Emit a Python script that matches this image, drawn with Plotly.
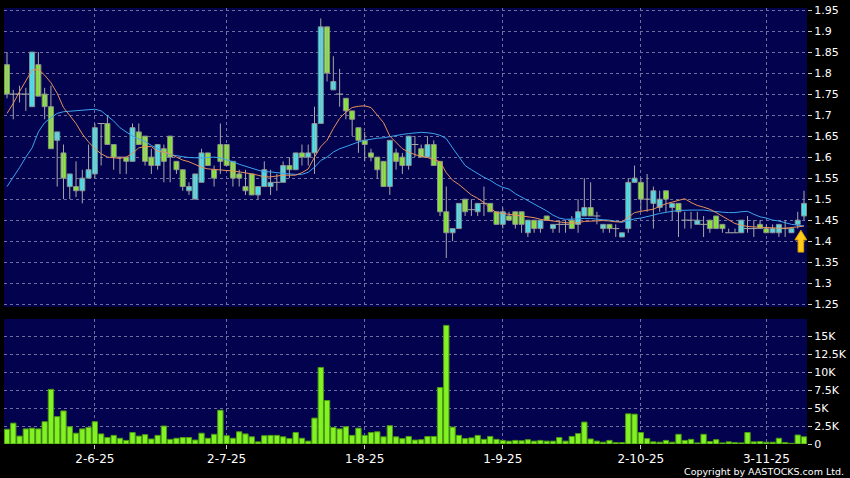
import plotly.graph_objects as go

# ---- data ----
opens = [1.82,1.75,1.75,1.75,1.72,1.82,1.75,1.72,1.64,1.61,1.53,1.53,1.52,1.55,1.56,1.68,1.68,1.63,1.60,1.60,
         1.59,1.66,1.65,1.60,1.58,1.62,1.65,1.59,1.57,1.52,1.50,1.54,1.61,1.57,1.63,1.63,1.59,1.56,1.53,1.56,
         1.51,1.53,1.53,1.54,1.54,1.58,1.57,1.61,1.60,1.61,1.68,1.91,1.76,1.75,1.74,1.71,1.67,1.64,1.61,1.60,
         1.59,1.53,1.61,1.60,1.58,1.63,1.62,1.60,1.63,1.59,1.47,1.42,1.43,1.50,1.475,1.47,1.49,1.49,1.47,1.44,
         1.46,1.47,1.47,1.42,1.45,1.43,1.46,1.43,1.44,1.44,1.45,1.44,1.46,1.48,1.46,1.43,1.44,1.43,1.41,1.43,
         1.54,1.54,1.50,1.49,1.48,1.52,1.48,1.49,1.45,1.45,1.44,1.44,1.45,1.46,1.44,1.42,1.42,1.42,1.43,1.43,
         1.44,1.43,1.42,1.42,1.43,1.42,1.44,1.46]
highs = [1.85,1.76,1.77,1.765,1.85,1.85,1.765,1.77,1.66,1.63,1.56,1.59,1.57,1.63,1.68,1.68,1.70,1.63,1.60,1.60,
         1.68,1.68,1.65,1.62,1.63,1.63,1.65,1.59,1.57,1.54,1.56,1.62,1.61,1.58,1.68,1.63,1.59,1.57,1.57,1.56,
         1.53,1.59,1.57,1.56,1.59,1.60,1.61,1.63,1.63,1.72,1.93,1.91,1.84,1.81,1.74,1.71,1.67,1.66,1.62,1.60,
         1.59,1.64,1.62,1.61,1.65,1.65,1.63,1.65,1.64,1.59,1.53,1.43,1.49,1.50,1.50,1.49,1.53,1.49,1.47,1.48,
         1.47,1.47,1.47,1.45,1.45,1.45,1.46,1.44,1.45,1.45,1.46,1.50,1.55,1.54,1.47,1.44,1.44,1.44,1.42,1.55,
         1.58,1.55,1.56,1.53,1.52,1.52,1.49,1.49,1.47,1.47,1.47,1.46,1.45,1.46,1.44,1.43,1.43,1.45,1.46,1.45,
         1.45,1.44,1.44,1.44,1.45,1.43,1.47,1.52]
lows = [1.74,1.69,1.73,1.71,1.72,1.745,1.69,1.62,1.53,1.50,1.50,1.505,1.49,1.55,1.55,1.58,1.63,1.57,1.56,1.56,
        1.59,1.63,1.58,1.56,1.57,1.54,1.54,1.56,1.52,1.51,1.50,1.54,1.58,1.53,1.56,1.58,1.53,1.53,1.51,1.51,
        1.50,1.53,1.51,1.52,1.54,1.55,1.57,1.58,1.58,1.56,1.68,1.78,1.76,1.72,1.69,1.65,1.61,1.59,1.59,1.55,
        1.53,1.51,1.57,1.56,1.57,1.60,1.60,1.60,1.58,1.46,1.36,1.40,1.43,1.46,1.46,1.46,1.46,1.47,1.44,1.43,
        1.45,1.43,1.42,1.41,1.42,1.42,1.45,1.42,1.42,1.42,1.43,1.42,1.46,1.46,1.44,1.42,1.42,1.41,1.41,1.42,
        1.54,1.47,1.47,1.43,1.47,1.47,1.45,1.41,1.43,1.43,1.44,1.41,1.42,1.43,1.42,1.42,1.42,1.42,1.42,1.41,
        1.43,1.42,1.42,1.41,1.41,1.42,1.43,1.45]
closes = [1.75,1.75,1.75,1.75,1.85,1.745,1.72,1.62,1.66,1.55,1.56,1.52,1.55,1.57,1.67,1.68,1.63,1.60,1.60,1.59,
          1.67,1.63,1.59,1.58,1.63,1.59,1.60,1.57,1.53,1.53,1.56,1.61,1.58,1.55,1.59,1.58,1.55,1.55,1.52,1.51,
          1.53,1.57,1.54,1.54,1.58,1.57,1.61,1.60,1.61,1.68,1.91,1.80,1.78,1.75,1.71,1.69,1.64,1.63,1.60,1.57,
          1.53,1.64,1.59,1.58,1.65,1.63,1.60,1.63,1.58,1.47,1.42,1.43,1.49,1.47,1.475,1.49,1.49,1.47,1.44,1.47,
          1.45,1.44,1.44,1.45,1.43,1.45,1.45,1.44,1.44,1.44,1.43,1.47,1.48,1.46,1.46,1.44,1.43,1.43,1.42,1.54,
          1.55,1.50,1.50,1.52,1.50,1.50,1.49,1.47,1.45,1.45,1.45,1.44,1.43,1.43,1.43,1.42,1.42,1.45,1.43,1.43,
          1.43,1.42,1.43,1.44,1.43,1.43,1.45,1.49]
ma_short = [1.704,1.728,1.756,1.783,1.807,1.809,1.795,1.777,1.752,1.718,1.700,1.680,1.655,1.636,1.620,1.608,1.600,1.599,1.597,1.600,
            1.609,1.622,1.625,1.625,1.614,1.612,1.608,1.600,1.593,1.589,1.582,1.576,1.572,1.571,1.570,1.569,1.567,1.565,1.563,1.560,
            1.557,1.553,1.553,1.555,1.557,1.557,1.557,1.563,1.572,1.600,1.625,1.640,1.668,1.692,1.707,1.718,1.721,1.722,1.718,1.700,
            1.682,1.650,1.635,1.620,1.612,1.606,1.602,1.599,1.594,1.589,1.563,1.545,1.535,1.522,1.510,1.502,1.492,1.478,1.468,1.466,
            1.464,1.462,1.460,1.458,1.456,1.452,1.450,1.447,1.446,1.444,1.443,1.444,1.447,1.448,1.449,1.449,1.448,1.446,1.446,1.458,
            1.468,1.471,1.473,1.476,1.483,1.489,1.493,1.497,1.501,1.492,1.485,1.481,1.476,1.468,1.460,1.452,1.442,1.438,1.435,1.434,
            1.433,1.432,1.431,1.431,1.431,1.432,1.434,1.436]
ma_long = [1.530,1.552,1.575,1.600,1.622,1.660,1.682,1.694,1.704,1.708,1.709,1.710,1.712,1.713,1.714,1.710,1.698,1.686,1.670,1.660,
           1.650,1.643,1.637,1.628,1.619,1.612,1.606,1.603,1.601,1.599,1.598,1.598,1.599,1.600,1.598,1.594,1.589,1.583,1.578,1.573,
           1.569,1.565,1.565,1.563,1.561,1.560,1.559,1.559,1.564,1.576,1.592,1.600,1.612,1.620,1.625,1.631,1.636,1.640,1.643,1.645,
           1.646,1.649,1.652,1.654,1.656,1.658,1.659,1.658,1.656,1.652,1.644,1.622,1.600,1.580,1.570,1.560,1.552,1.545,1.535,1.528,
           1.524,1.513,1.505,1.497,1.489,1.481,1.472,1.462,1.455,1.452,1.453,1.454,1.454,1.454,1.452,1.451,1.450,1.447,1.445,1.449,
           1.453,1.455,1.458,1.462,1.466,1.469,1.471,1.473,1.474,1.474,1.474,1.474,1.472,1.470,1.469,1.468,1.468,1.470,1.471,1.464,
           1.458,1.455,1.450,1.448,1.444,1.440,1.438,1.436]
volume_k = [2.05,2.9,1.1,2.1,2.2,2.1,3.1,7.6,3.8,4.6,2.4,1.5,2.1,2.3,3.1,1.4,0.9,1.2,0.8,0.5,
            1.6,1.1,1.3,0.7,1.2,2.5,0.65,0.8,0.9,0.9,0.55,1.5,0.8,1.35,4.7,1.15,0.8,1.7,1.4,1.0,
            0.3,1.15,1.2,1.2,1.0,0.75,1.6,0.8,0.4,3.6,10.65,6.05,2.3,2.1,2.4,1.2,2.2,1.2,1.6,1.7,
            1.0,2.55,1.0,0.75,1.05,0.55,0.6,1.05,1.05,7.85,16.5,2.35,1.2,0.75,0.85,1.2,0.65,1.05,0.65,0.5,
            0.4,0.5,0.45,0.6,0.4,0.5,0.4,0.4,0.9,0.4,1.05,1.45,3.05,0.7,0.4,0.25,0.5,0.2,0.2,4.2,
            4.15,1.6,0.75,0.3,0.25,0.5,0.25,1.35,0.5,0.65,0.15,1.35,0.35,0.6,0.15,0.3,0.2,0.15,1.6,0.3,
            0.35,0.25,0.25,0.8,0.2,0.1,1.25,1.0]
days = list(range(len(closes)))           # trading-day positions
tick_days = [14, 35, 57, 79, 101, 121]
tick_labels = ["2-6-25", "2-7-25", "1-8-25", "1-9-25", "2-10-25", "3-11-25"]
price_ticks = [1.25, 1.3, 1.35, 1.4, 1.45, 1.5, 1.55, 1.6, 1.65, 1.7, 1.75, 1.8, 1.85, 1.9, 1.95]
price_labels = ["1.25", "1.3", "1.35", "1.4", "1.45", "1.5", "1.55", "1.6", "1.65", "1.7", "1.75", "1.8", "1.85", "1.9", "1.95"]
vol_ticks = [0, 2.5, 5, 7.5, 10, 12.5, 15]
vol_labels = ["0", "2.5K", "5K", "7.5K", "10K", "12.5K", "15K"]

# ---- styles ----
BG = "#000000"
PANEL = "#02024E"
GRID = "#6E6EA0"
GRID_DASH = "3px,3px"
UP = "#36ECFA"
DOWN = "#82F224"
EDGE = "#8A8A8A"
WICK = "#A8A8A8"
TXT = "#FFFFFF"
FONT = "DejaVu Sans"

fig = go.Figure()

# wicks
wx, wy = [], []
for d, lo, hi in zip(days, lows, highs):
    wx += [d, d, None]
    wy += [lo, hi, None]
fig.add_trace(go.Scatter(x=wx, y=wy, mode="lines", line=dict(color=WICK, width=1),
                         hoverinfo="skip", showlegend=False, xaxis="x", yaxis="y"))

# bodies
for up in (True, False):
    bx, bb, bh = [], [], []
    for d, o, c in zip(days, opens, closes):
        if (c > o) == up and c != o:
            bx.append(d)
            bb.append(min(o, c))
            bh.append(abs(c - o))
    fig.add_trace(go.Bar(x=bx, y=bh, base=bb, width=0.8,
                         marker=dict(color=UP if up else DOWN, line=dict(color=EDGE, width=1)),
                         showlegend=False, xaxis="x", yaxis="y"))

# doji
dx = [d for d, o, c in zip(days, opens, closes) if o == c]
dy = [o for o, c in zip(opens, closes) if o == c]
fig.add_trace(go.Scatter(x=dx, y=dy, mode="markers",
                         marker=dict(symbol="line-ew", size=5, line=dict(color=WICK, width=1)),
                         showlegend=False, xaxis="x", yaxis="y"))

# moving averages
fig.add_trace(go.Scatter(x=days, y=ma_long, mode="lines", line=dict(color="#3DA5F0", width=1),
                         showlegend=False, xaxis="x", yaxis="y"))
fig.add_trace(go.Scatter(x=days, y=ma_short, mode="lines", line=dict(color="#E8925A", width=1),
                         showlegend=False, xaxis="x", yaxis="y"))

# volume
fig.add_trace(go.Bar(x=days, y=volume_k, width=0.85,
                     marker=dict(color=DOWN, line=dict(color="#4C9A10", width=1)),
                     showlegend=False, xaxis="x2", yaxis="y2"))

xr = [-0.478, len(days) - 1 + 0.478]
common_x = dict(range=xr, tickmode="array", tickvals=tick_days, ticktext=tick_labels,
                showgrid=True, gridcolor=GRID, griddash=GRID_DASH, gridwidth=1,
                zeroline=False, showline=False, fixedrange=True)

fig.update_layout(
    width=850, height=478,
    margin=dict(l=4, r=43, t=8, b=34),
    paper_bgcolor=BG, plot_bgcolor=PANEL,
    barmode="overlay", bargap=0,
    font=dict(family=FONT, size=11, color=TXT),
    xaxis=dict(common_x, domain=[0, 1], anchor="y", showticklabels=False, ticks=""),
    xaxis2=dict(common_x, domain=[0, 1], anchor="y2", showticklabels=True, ticks="outside",
                ticklen=4, tickcolor="#CCCCCC", tickfont=dict(family=FONT, size=12, color=TXT)),
    yaxis=dict(domain=[0.3144, 1], range=[1.2436, 1.9548], side="right", fixedrange=True,
               tickmode="array", tickvals=price_ticks, ticktext=price_labels,
               ticks="outside", ticklen=4, tickcolor="#CCCCCC",
               showgrid=True, gridcolor=GRID, griddash=GRID_DASH, zeroline=False, showline=False,
               tickfont=dict(family=FONT, size=11, color=TXT)),
    yaxis2=dict(domain=[0, 0.2869], range=[0, 17.4], side="right", fixedrange=True,
                tickmode="array", tickvals=vol_ticks, ticktext=vol_labels,
                ticks="outside", ticklen=4, tickcolor="#CCCCCC",
                showgrid=True, gridcolor=GRID, griddash=GRID_DASH, zeroline=False, showline=False,
                tickfont=dict(family=FONT, size=11, color=TXT)),
    shapes=[dict(type="path", xref="x", yref="y",
                 path="M 126.5 1.4262 L 127.45 1.403 L 126.95 1.403 L 126.95 1.374 L 126.05 1.374 "
                      "L 126.05 1.403 L 125.55 1.403 Z",
                 fillcolor="#FFCC1A", line=dict(color="#D89A00", width=1))],
    annotations=[dict(text="Copyright by AASTOCKS.com Ltd.", xref="paper", yref="paper",
                      x=1.0486, y=-0.0633, xanchor="right", yanchor="middle", showarrow=False,
                      font=dict(family=FONT, size=9.5, color=TXT))],
)

fig.write_html("out.html",
               config={"displayModeBar": False, "staticPlot": True},
               post_script="document.body.style.margin='0';document.body.style.background='#000';"
                           "document.body.style.overflow='hidden';")
